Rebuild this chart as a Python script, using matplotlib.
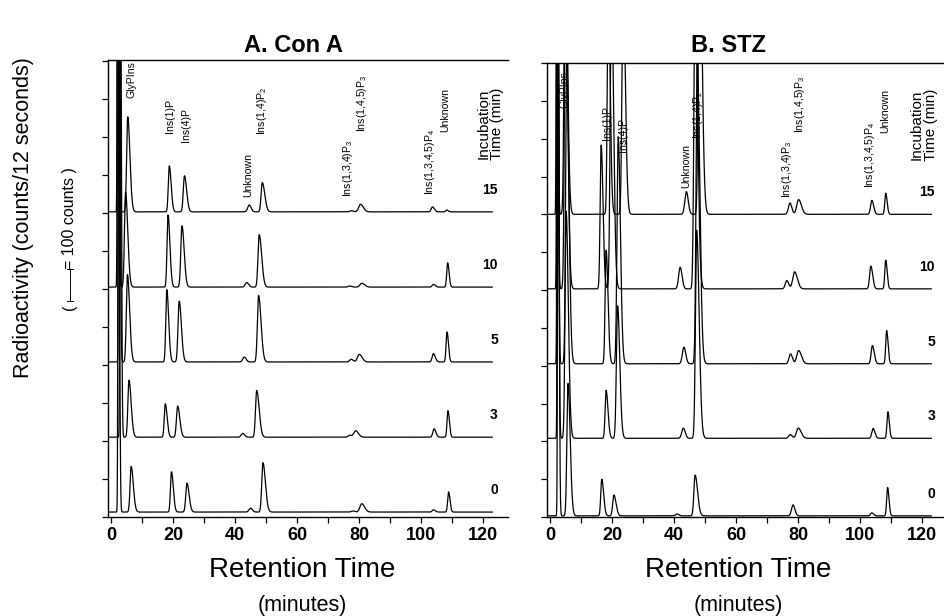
import numpy as np
import matplotlib
matplotlib.use("Agg")
import matplotlib.pyplot as plt
from matplotlib.lines import Line2D

plt.rcParams['font.family'] = ['Liberation Sans', 'DejaVu Sans']
plt.rcParams['mathtext.default'] = 'regular'

# ---------------- data ----------------
incubation = ["0", "3", "5", "10", "15"]
compounds = ["front", "GlyPIns", "Ins(1)P", "Ins(4)P", "Unknown", "Ins(1,4)P2",
             "Ins(1,3,4)P3", "Ins(1,4,5)P3", "Ins(1,3,4,5)P4", "Unknown"]
# peak widths (minutes): leading / trailing side
sig_lead = [0.15, 0.35, 0.32, 0.38, 0.5, 0.38, 0.5, 0.6, 0.4, 0.3]
sig_tail = [0.30, 0.70, 0.60, 0.70, 0.6, 0.80, 0.6, 0.9, 0.6, 0.45]

# Panel A (Con A): baseline offsets (axis units, 1 unit = 100 counts)
conA_offset = [0.13, 2.10, 4.08, 6.05, 8.03]
conA_rt = [
    [2.4, 6.5, 19.5, 24.5, 45.0, 49.0, 78.0, 80.9, 104.0, 108.9],   # 0 min
    [3.0, 5.8, 17.5, 21.5, 42.5, 47.0, 77.0, 78.9, 104.2, 108.7],   # 3 min
    [2.6, 5.3, 18.0, 22.0, 43.0, 47.6, 77.5, 80.1, 104.0, 108.4],   # 5 min
    [2.2, 4.7, 18.4, 22.9, 43.8, 47.8, 77.0, 80.9, 104.0, 108.6],   # 10 min
    [2.2, 5.4, 18.8, 23.7, 44.6, 48.8, 77.5, 80.5, 103.7, 108.3],   # 15 min
]
conA_h = [
    [15.0, 1.20, 1.06, 0.76, 0.10, 1.30, 0.03, 0.22, 0.06, 0.53],
    [15.0, 1.50, 0.88, 0.82, 0.10, 1.23, 0.05, 0.17, 0.22, 0.70],
    [15.0, 2.30, 1.90, 1.60, 0.13, 1.75, 0.07, 0.20, 0.22, 0.79],
    [15.0, 2.50, 1.90, 1.61, 0.12, 1.38, 0.03, 0.10, 0.07, 0.64],
    [15.0, 2.50, 1.21, 0.95, 0.18, 0.77, 0.03, 0.20, 0.13, 0.05],
]

# Panel B (STZ)
stz_offset = [0.03, 2.08, 4.05, 6.03, 8.00]
stz_rt = [
    [2.6, 5.8, 16.7, 20.6, 41.0, 46.8, 78.4, 80.5, 103.8, 108.9],
    [2.5, 5.2, 18.1, 21.8, 43.0, 47.3, 77.5, 80.1, 104.2, 109.0],
    [2.4, 5.4, 18.1, 22.0, 43.2, 47.5, 77.6, 80.2, 104.0, 108.6],
    [2.3, 5.0, 16.5, 19.8, 42.0, 46.8, 76.4, 78.9, 103.5, 108.3],
    [2.2, 4.9, 18.8, 23.6, 44.0, 48.2, 77.4, 80.2, 103.8, 108.3],
]
stz_h = [
    [15.0, 3.5, 0.97, 0.55, 0.05, 1.08, 0.29, 0.00, 0.08, 0.75],
    [15.0, 6.0, 1.27, 3.50, 0.27, 5.50, 0.10, 0.27, 0.26, 0.70],
    [15.0, 8.0, 3.00, 6.00, 0.44, 8.00, 0.26, 0.35, 0.48, 0.88],
    [15.0, 8.0, 3.80, 8.00, 0.57, 8.00, 0.22, 0.45, 0.60, 0.76],
    [15.0, 8.0, 6.00, 6.00, 0.60, 8.00, 0.30, 0.39, 0.37, 0.56],
]

peak_labels = ["GlyPIns", "Ins(1)P", "Ins(4)P", "Unknown", "Ins(1,4)P$_2$",
               "Ins(1,3,4)P$_3$", "Ins(1,4,5)P$_3$", "Ins(1,3,4,5)P$_4$", "Unknown"]

# ---------------- layout ----------------
W, H = 945, 616
conA_lab_pos = [(6.7, 11.03), (19.0, 10.1), (24.2, 9.88), (44.3, 8.43), (48.6, 10.05),
                (76.6, 8.43), (80.9, 10.14), (103.0, 8.47), (107.7, 10.14)]
stz_lab_pos = [(4.8, 10.8), (18.3, 9.97), (23.6, 9.66), (44.1, 8.69), (47.8, 10.0),
               (76.3, 8.43), (80.6, 10.14), (103.2, 8.69), (108.1, 10.14)]

x = np.arange(-0.8, 123.0, 0.02)


def chromatogram(rts, hs):
    y = np.zeros_like(x)
    for c, h, sl, st in zip(rts, hs, sig_lead, sig_tail):
        s = np.where(x < c, sl, st)
        y += h * np.exp(-0.5 * ((x - c) / s) ** 2)
    return y


fig = plt.figure(figsize=(W / 100, H / 100), dpi=100)


def make_axes(left_px, right_px, top_px, x0_px):
    ax = fig.add_axes([left_px / W, 1 - 517 / H, (right_px - left_px) / W, (517 - top_px) / H])
    ppm = 3.1
    ax.set_xlim((left_px - x0_px) / ppm, (right_px - x0_px) / ppm)
    ax.set_ylim(0, (517 - top_px) / 38.0)
    ax.spines['right'].set_visible(False)
    for s in ['left', 'bottom', 'top']:
        ax.spines[s].set_linewidth(1.0)
    ax.set_xticks(np.arange(0, 121, 20))
    ax.set_xticks(np.arange(10, 121, 20), minor=True)
    ax.set_xticklabels([str(v) for v in range(0, 121, 20)], fontsize=13, fontweight='bold')
    ax.set_yticks(np.arange(0, 12.1, 1))
    ax.set_yticklabels([])
    ax.tick_params(axis='both', which='both', direction='out', length=4.5, width=0.9,
                   pad=3)
    return ax


axA = make_axes(108, 508, 60, 111)
axB = make_axes(547, 943, 63, 550)


def draw_panel(ax, offsets, rts, hs, lab_pos, num_x, inc_x):
    for off, r, h, name in zip(offsets, rts, hs, incubation):
        ax.plot(x, off + chromatogram(r, h), color='black', lw=0.9)
        ax.text(num_x, off + 0.58, name, ha='right', va='center', fontsize=10,
                fontweight='bold')
    for (px, py), lab in zip(lab_pos, peak_labels):
        ax.text(px, py, lab, rotation=90, ha='center', va='bottom', fontsize=7.6)
    ax.text(inc_x, 9.4, "Incubation\nTime (min)", rotation=90, ha='center', va='bottom',
            fontsize=11, multialignment='center', linespacing=0.98)


draw_panel(axA, conA_offset, conA_rt, conA_h, conA_lab_pos, 124.8, 122.3)
draw_panel(axB, stz_offset, stz_rt, stz_h, stz_lab_pos, 124.2, 120.6)

# titles
fig.text(293 / W, 1 - 45 / H, "A. Con A", ha='center', va='center', fontsize=17,
         fontweight='bold')
fig.text(728 / W, 1 - 45 / H, "B. STZ", ha='center', va='center', fontsize=17,
         fontweight='bold')

# x labels
for cx in (302, 738):
    fig.text(cx / W, 1 - 570 / H, "Retention Time", ha='center', va='center', fontsize=20)
    fig.text(cx / W, 1 - 605 / H, "(minutes)", ha='center', va='center', fontsize=15.5)

# y label
fig.text(24 / W, 1 - 218 / H, "Radioactivity (counts/12 seconds)", rotation=90,
         ha='center', va='center', fontsize=15.5)
fig.text(70 / W, 1 - 218 / H, "= 100 counts )", rotation=90, ha='center', va='center',
         fontsize=11.5)
fig.text(70 / W, 1 - 307 / H, "(", rotation=90, ha='center', va='center', fontsize=11.5)
# scale bar (1 unit = 100 counts)
ybar0, ybar1 = 1 - 301 / H, 1 - 269 / H
fig.add_artist(Line2D([70 / W, 70 / W], [ybar0, ybar1], color='black', lw=0.7))
for yy in (ybar0, ybar1):
    fig.add_artist(Line2D([67 / W, 73 / W], [yy, yy], color='black', lw=0.7))

fig.savefig("out.png", dpi=100)
